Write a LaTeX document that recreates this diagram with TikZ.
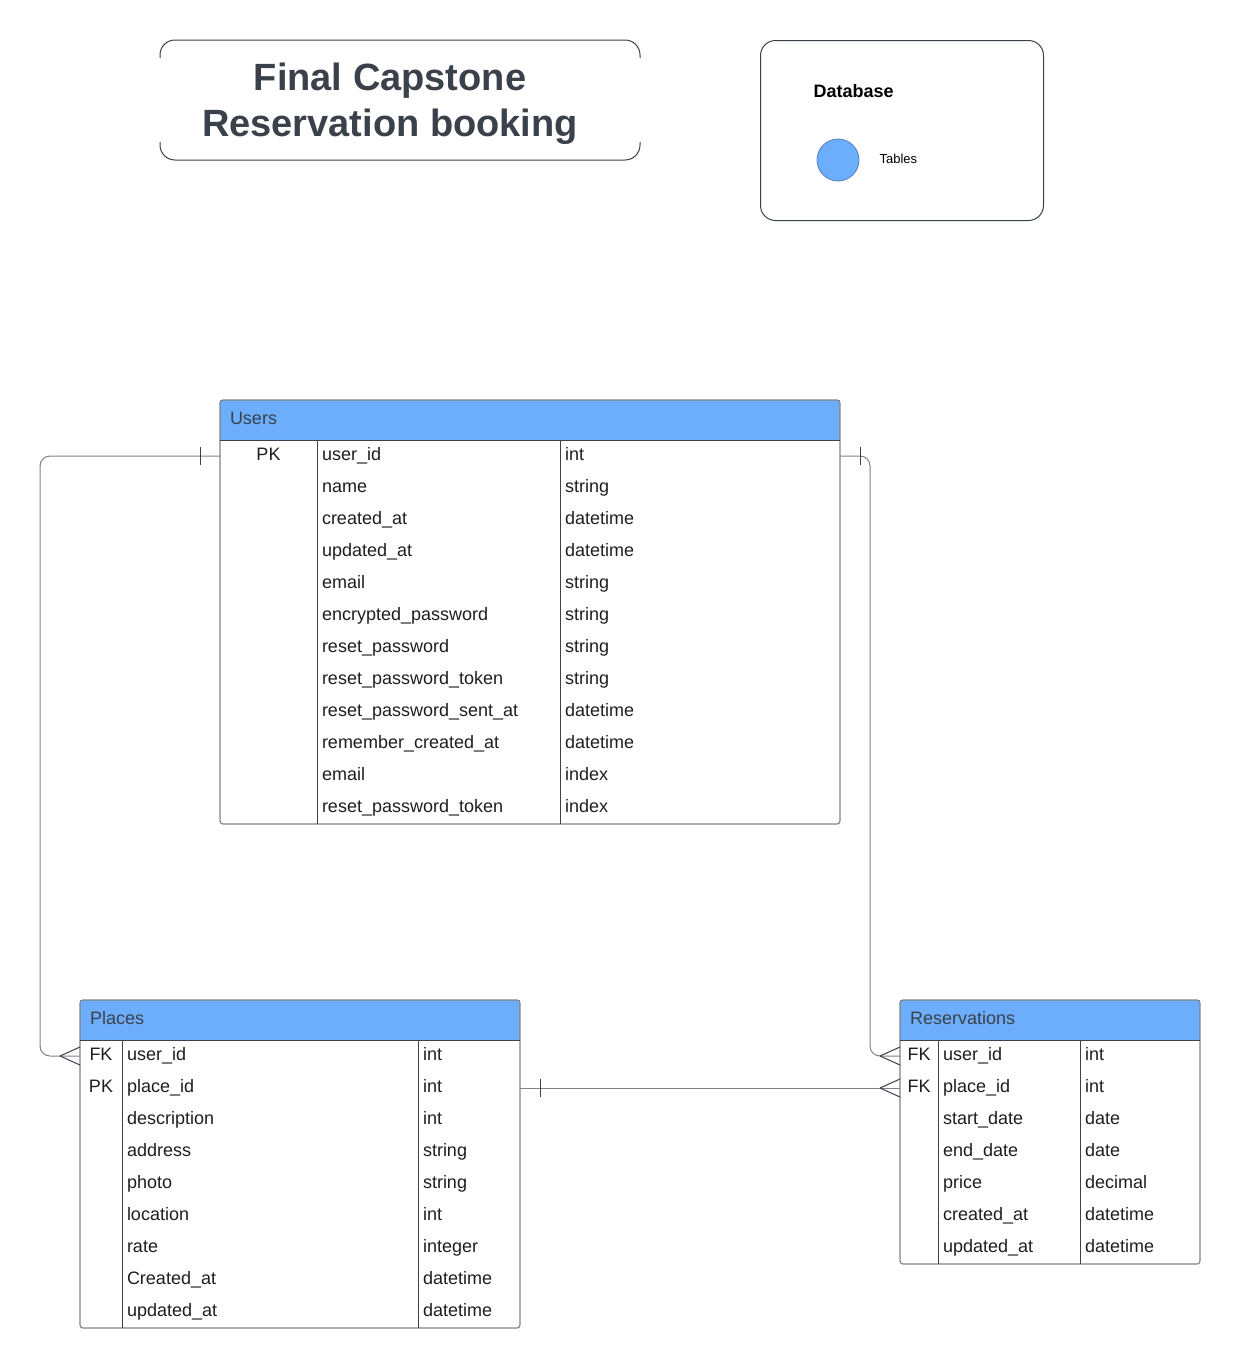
\documentclass[tikz,border=0pt]{standalone}
\usepackage{fontspec}
\setmainfont{Liberation Sans}
\usepackage{xcolor}
\usetikzlibrary{positioning}
\definecolor{ErdBlue}{HTML}{6CAEFC}
\definecolor{ErdSlate}{HTML}{3A414A}
\definecolor{ErdGrey}{HTML}{7E828A}
\definecolor{ErdText}{HTML}{1E1E1E}
\tikzset{
    % Table styles
    tablebox/.style={
        rectangle,
        draw=ErdGrey,
        line width=1.2pt,
        rounded corners=3pt,
        anchor=north west,
        inner sep=0pt,
        outer sep=0pt
    },
    headbox/.style={
        rectangle,
        fill=ErdBlue,
        anchor=north west,
        minimum height=40pt,
        inner xsep=10pt,
        inner ysep=0pt,
        outer sep=0pt,
        text height=13pt,
        text depth=4pt,
        align=left,
        text=ErdSlate,
        font=\fontsize{18}{20}\selectfont
    },
    cellbox/.style={
        rectangle,
        anchor=north west,
        minimum height=32pt,
        inner xsep=5pt,
        inner ysep=0pt,
        outer sep=0pt,
        text height=13pt,
        text depth=4pt,
        align=left,
        text=ErdText,
        font=\fontsize{18}{20}\selectfont
    },
    keybox/.style={
        cellbox,
        align=center
    },
    colline/.style={
        draw=ErdSlate,
        line width=1pt
    },
    % Connector styles
    relline/.style={
        draw=ErdGrey,
        line width=1pt,
        rounded corners=10pt
    },
    markline/.style={
        draw=ErdSlate,
        line width=1pt
    }
}
\begin{document}
\begin{tikzpicture}[x=1pt,y=-1pt]
    \useasboundingbox (0,0) rectangle (1241,1368);

    % Title
    \node[font=\fontsize{38}{46}\selectfont\bfseries,text=ErdSlate,align=center] (title) at (390,104) {Final Capstone\\Reservation booking};
    \draw[draw=ErdSlate,line width=1pt,rounded corners=15pt] (160,58) -- (160,40) -- (640,40) -- (640,58);
    \draw[draw=ErdSlate,line width=1pt,rounded corners=15pt] (160,142) -- (160,160) -- (640,160) -- (640,142);

    % Legend
    \node[draw=ErdSlate,line width=1pt,rounded corners=15pt,minimum width=283pt,minimum height=180pt,anchor=north west] (legend) at (760,40) {};
    \node[font=\fontsize{18}{20}\selectfont\bfseries,anchor=base west] (legend-title) at (810,97) {Database};
    \node[circle,fill=ErdBlue,draw=ErdBlue!75!black,line width=0.8pt,minimum size=42pt,inner sep=0pt] (legend-dot) at (838,160) {};
    \node[font=\fontsize{13}{15}\selectfont,anchor=west] (legend-label) at (876,159) {Tables};

    % Users table
    \node[headbox,text width=600pt] (users-head) at (220,400) {Users};
    \foreach \k/\n/\t [count=\i from 0] in {PK/user\_id/int, /name/string, /created\_at/datetime, /updated\_at/datetime, /email/string, /encrypted\_password/string, /reset\_password/string, /reset\_password\_token/string, /reset\_password\_sent\_at/datetime, /remember\_created\_at/datetime, /email/index, /reset\_password\_token/index}{
        \node[keybox,text width=87pt] (users-k\i) at (220,{440+32*\i}) {\k};
        \node[cellbox,text width=233pt,right=0pt of users-k\i] (users-n\i) {\n};
        \node[cellbox,text width=270pt,right=0pt of users-n\i] (users-t\i) {\t};
    }
    \node[tablebox,minimum width=620pt,minimum height=424pt] (users) at (220,400) {};
    \draw[colline] (users-head.south west) -- (users-head.south east);
    \draw[colline] (users-head.south -| users-k0.east) -- (users.south -| users-k0.east);
    \draw[colline] (users-head.south -| users-n0.east) -- (users.south -| users-n0.east);

    % Places table
    \node[headbox,text width=420pt] (places-head) at (80,1000) {Places};
    \foreach \k/\n/\t [count=\i from 0] in {FK/user\_id/int, PK/place\_id/int, /description/int, /address/string, /photo/string, /location/int, /rate/integer, /Created\_at/datetime, /updated\_at/datetime}{
        \node[keybox,text width=32pt] (places-k\i) at (80,{1040+32*\i}) {\k};
        \node[cellbox,text width=286pt,right=0pt of places-k\i] (places-n\i) {\n};
        \node[cellbox,text width=92pt,right=0pt of places-n\i] (places-t\i) {\t};
    }
    \node[tablebox,minimum width=440pt,minimum height=328pt] (places) at (80,1000) {};
    \draw[colline] (places-head.south west) -- (places-head.south east);
    \draw[colline] (places-head.south -| places-k0.east) -- (places.south -| places-k0.east);
    \draw[colline] (places-head.south -| places-n0.east) -- (places.south -| places-n0.east);

    % Reservations table
    \node[headbox,text width=280pt] (reservations-head) at (900,1000) {Reservations};
    \foreach \k/\n/\t [count=\i from 0] in {FK/user\_id/int, FK/place\_id/int, /start\_date/date, /end\_date/date, /price/decimal, /created\_at/datetime, /updated\_at/datetime}{
        \node[keybox,text width=28pt] (reservations-k\i) at (900,{1040+32*\i}) {\k};
        \node[cellbox,text width=132pt,right=0pt of reservations-k\i] (reservations-n\i) {\n};
        \node[cellbox,text width=110pt,right=0pt of reservations-n\i] (reservations-t\i) {\t};
    }
    \node[tablebox,minimum width=300pt,minimum height=264pt] (reservations) at (900,1000) {};
    \draw[colline] (reservations-head.south west) -- (reservations-head.south east);
    \draw[colline] (reservations-head.south -| reservations-k0.east) -- (reservations.south -| reservations-k0.east);
    \draw[colline] (reservations-head.south -| reservations-n0.east) -- (reservations.south -| reservations-n0.east);

    % Users -- Places
    \draw[relline] (users-k0.west) -- ++(-180,0) |- (places-k0.west);
    \draw[markline] ([xshift=-20pt,yshift=-9pt]users-k0.west) -- ([xshift=-20pt,yshift=9pt]users-k0.west);
    \draw[markline] ([xshift=-20pt]places-k0.west) -- ([yshift=9pt]places-k0.west);
    \draw[markline] ([xshift=-20pt]places-k0.west) -- ([yshift=-9pt]places-k0.west);

    % Users -- Reservations
    \draw[relline] (users-t0.east) -- ++(30,0) |- (reservations-k0.west);
    \draw[markline] ([xshift=20pt,yshift=-9pt]users-t0.east) -- ([xshift=20pt,yshift=9pt]users-t0.east);
    \draw[markline] ([xshift=-20pt]reservations-k0.west) -- ([yshift=9pt]reservations-k0.west);
    \draw[markline] ([xshift=-20pt]reservations-k0.west) -- ([yshift=-9pt]reservations-k0.west);

    % Places -- Reservations
    \draw[relline] (places-t1.east) -- (reservations-k1.west);
    \draw[markline] ([xshift=20pt,yshift=-9pt]places-t1.east) -- ([xshift=20pt,yshift=9pt]places-t1.east);
    \draw[markline] ([xshift=-20pt]reservations-k1.west) -- ([yshift=9pt]reservations-k1.west);
    \draw[markline] ([xshift=-20pt]reservations-k1.west) -- ([yshift=-9pt]reservations-k1.west);
\end{tikzpicture}
\end{document}
